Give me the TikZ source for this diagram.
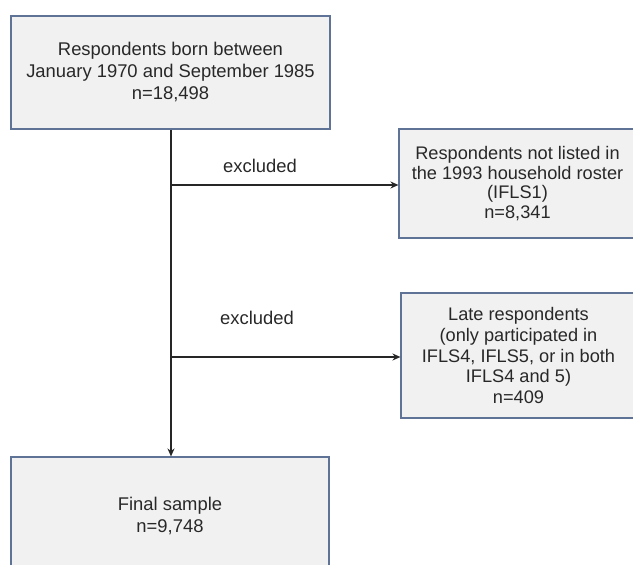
\documentclass[tikz,border=0pt]{standalone}
\usepackage{fontspec}
\setmainfont{Liberation Sans}
\usetikzlibrary{arrows.meta}
\definecolor{boxfill}{RGB}{241,241,241}
\definecolor{boxline}{RGB}{95,115,150}
\definecolor{txt}{RGB}{40,40,40}
\begin{document}
\begin{tikzpicture}[x=1pt,y=-1pt,
  flowbox/.style={draw=boxline, fill=boxfill, line width=1.1pt, rectangle, inner sep=0pt,
    text=txt, align=center, font=\fontsize{18.4pt}{22pt}\selectfont},
  conn/.style={line width=1.2pt, draw=black!85},
  arr/.style={conn, -{Stealth[length=8pt,width=7pt]}},
  lbl/.style={text=txt, font=\fontsize{18.4pt}{22pt}\selectfont, inner sep=0pt}]
\useasboundingbox (0,0) rectangle (633,565);
\node[flowbox, minimum width=319pt, minimum height=113pt] (b1) at (170.5,72.5)
  {Respondents born between\\January 1970 and September 1985\\n=18,498};
\node[flowbox, minimum width=237pt, minimum height=109pt,
  font=\fontsize{18.2pt}{19.5pt}\selectfont] (b2) at (517.5,183.5)
  {Respondents not listed in\\the 1993 household roster\\(IFLS1)\\n=8,341};
\node[flowbox, minimum width=235pt, minimum height=125pt,
  font=\fontsize{18.2pt}{20.7pt}\selectfont] (b3) at (518.5,355.5)
  {Late respondents\\(only participated in\\IFLS4, IFLS5, or in both\\IFLS4 and 5)\\n=409};
\node[flowbox, minimum width=318pt, minimum height=118pt] (b4) at (170,516)
  {Final sample\\n=9,748};
\coordinate (j1) at (171,185);
\coordinate (j2) at (171,357);
\draw[arr] (b1.south -| j1) -- (b4.north -| j1);
\draw[arr] (j1) -- (j1 -| b2.west);
\draw[arr] (j2) -- (j2 -| b3.west);
\node[lbl] (l1) at (260,166) {excluded};
\node[lbl] (l2) at (257,318) {excluded};
\end{tikzpicture}
\end{document}
